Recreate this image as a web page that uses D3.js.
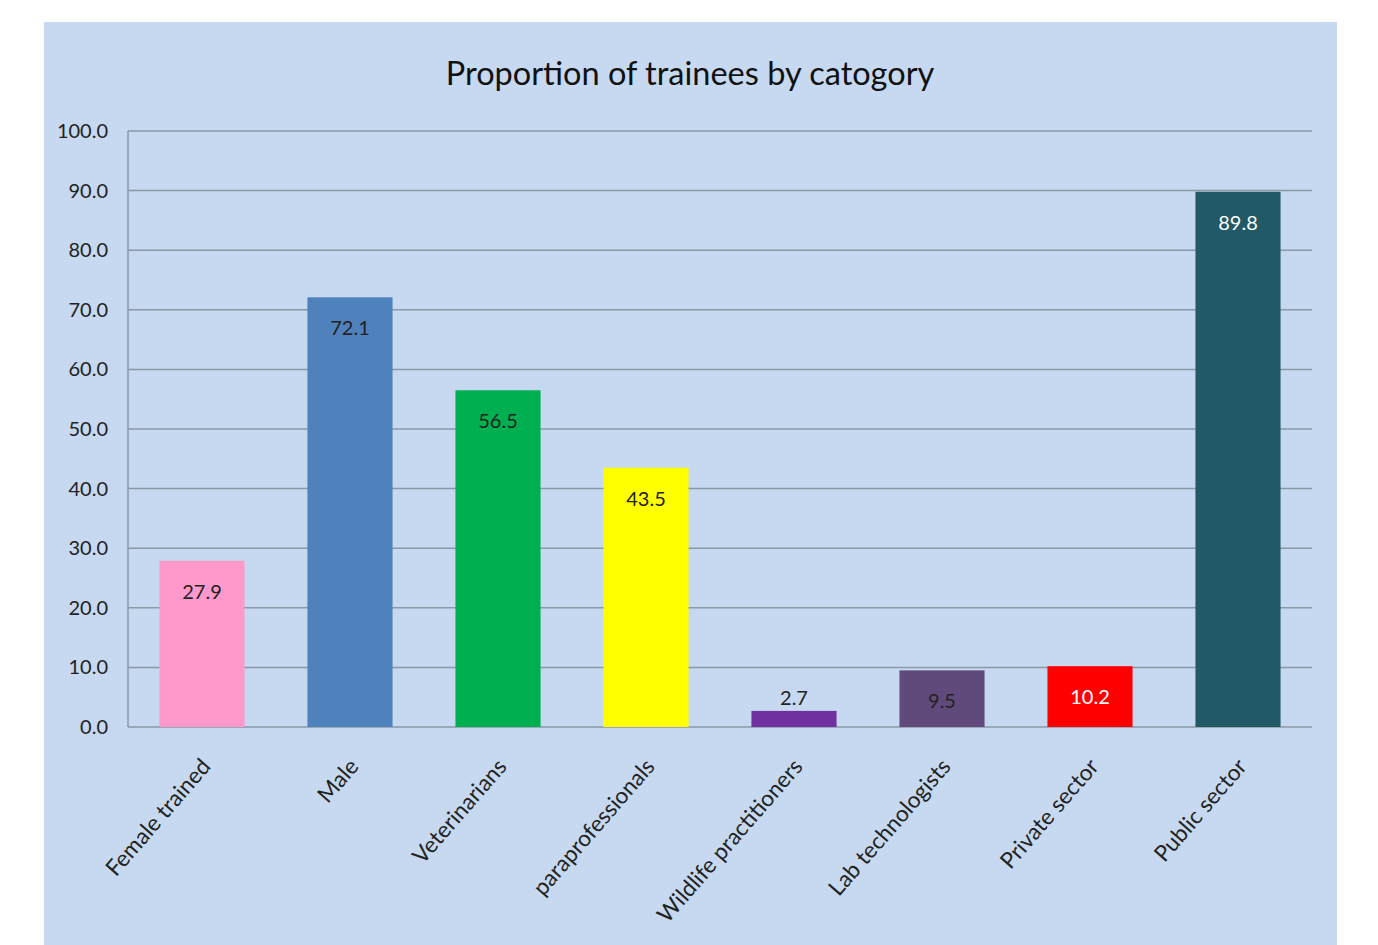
<!DOCTYPE html>
<html><head><meta charset="utf-8">
<script src="https://cdn.jsdelivr.net/npm/d3@7"></script>
<style>body{margin:0;background:#fff;}svg{display:block;}text{font-family:Lato,"Open Sans",sans-serif;}</style>
</head><body><svg id="c" width="1378" height="945"></svg>
<script>
const categories = ["Female trained","Male","Veterinarians","paraprofessionals","Wildlife practitioners","Lab technologists","Private sector","Public sector"];
const values = [27.9,72.1,56.5,43.5,2.7,9.5,10.2,89.8];
const barColors = ["#ff99cc","#4f81bd","#00b050","#ffff00","#7030a0","#604a7b","#ff0000","#215967"];
const labelColors = ["#222","#222","#222","#222","#222","#222","#fff","#fff"];
const labelInside = [true,true,true,true,false,true,true,true];
const yTicks = [0,10,20,30,40,50,60,70,80,90,100];
const title = "Proportion of trainees by catogory";

const svg = d3.select("#c");
svg.append("rect").attr("x",44).attr("y",22).attr("width",1293).attr("height",923).attr("fill","#c6d9f0");

const L=128,R=1312,T=131,B=727;
const x = d3.scaleBand().domain(categories).range([L,R]).paddingInner(0.425).paddingOuter(0.2125);
const y = d3.scaleLinear().domain([0,100]).range([B,T]);

svg.append("g").selectAll("line").data(yTicks).join("line")
  .attr("x1",L).attr("x2",R).attr("y1",d=>y(d)).attr("y2",d=>y(d))
  .attr("stroke","#8b98a8").attr("stroke-width",1.5);
svg.append("line").attr("x1",L).attr("x2",L).attr("y1",T).attr("y2",B).attr("stroke","#8b98a8").attr("stroke-width",1.5);

svg.append("g").selectAll("text").data(yTicks).join("text")
  .attr("x",108).attr("y",d=>y(d)).attr("dy","0.35em").attr("text-anchor","end")
  .attr("font-size",20).attr("fill","#222").text(d=>d.toFixed(1));

svg.append("g").selectAll("rect").data(values).join("rect")
  .attr("x",(d,i)=>x(categories[i])).attr("width",x.bandwidth())
  .attr("y",d=>y(d)).attr("height",d=>B-y(d)).attr("fill",(d,i)=>barColors[i]);

svg.append("g").selectAll("text").data(values).join("text")
  .attr("x",(d,i)=>x(categories[i])+x.bandwidth()/2)
  .attr("y",(d,i)=>labelInside[i]? y(d)+31 : y(d)-13)
  .attr("dy","0.35em").attr("text-anchor","middle").attr("font-size",20)
  .attr("fill",(d,i)=>labelColors[i]).text(d=>d.toFixed(1));

svg.append("g").selectAll("text").data(categories).join("text")
  .attr("transform",d=>`translate(${x(d)+x.bandwidth()/2-2},${B+30}) rotate(-49)`)
  .attr("text-anchor","end").attr("dy","0.7em").attr("font-size",22.5).attr("fill","#222").text(d=>d);

svg.append("text").attr("x",690).attr("y",85).attr("text-anchor","middle").attr("font-size",32.5).attr("fill","#111").text(title);
</script></body></html>
